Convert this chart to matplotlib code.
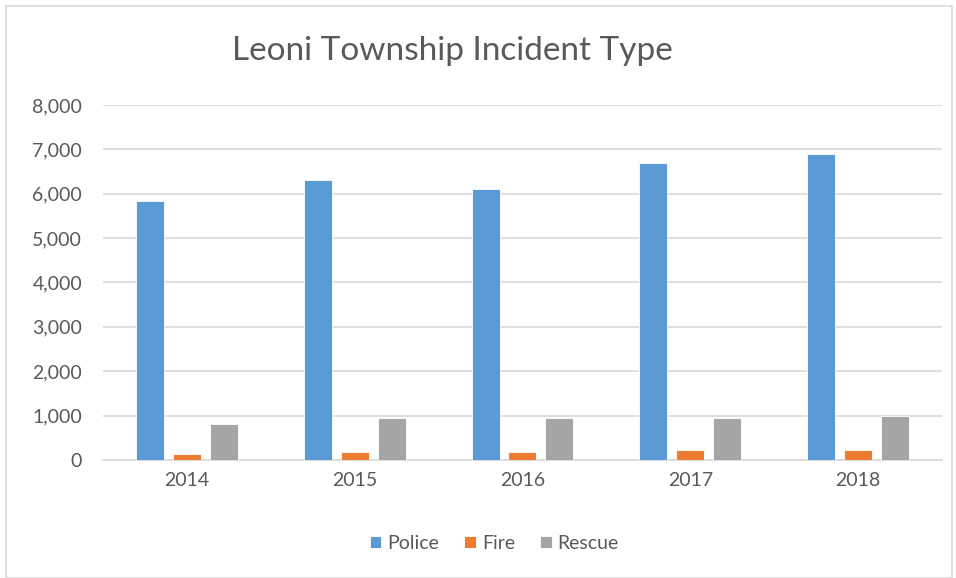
import matplotlib
matplotlib.use("Agg")
import matplotlib.pyplot as plt
import numpy as np
from matplotlib.patches import Rectangle

years = ["2014", "2015", "2016", "2017", "2018"]
police = [5830, 6320, 6115, 6695, 6895]
fire = [130, 180, 180, 215, 215]
rescue = [820, 940, 940, 940, 990]
series_names = ["Police", "Fire", "Rescue"]
colors = ["#5B9BD5", "#ED7D31", "#A5A5A5"]

plt.rcParams['font.family'] = ['Lato', 'DejaVu Sans']

fig = plt.figure(figsize=(9.56, 5.78), dpi=100)
ax = fig.add_axes([0.1077, 0.2042, 0.8776, 0.6141])

x = np.arange(len(years))
w = 0.167
step = 0.22
for i, (vals, name, c) in enumerate(zip([police, fire, rescue], series_names, colors)):
    ax.bar(x + (i - 1) * step, vals, width=w, color=c, label=name,
           edgecolor="white", linewidth=0.6, zorder=3)

ax.set_xlim(-0.5, len(years) - 0.5)
ax.set_ylim(0, 8000)
ax.set_yticks(np.arange(0, 8001, 1000))
ax.set_yticklabels([f"{v:,}" for v in range(0, 8001, 1000)])
ax.set_xticks(x)
ax.set_xticklabels(years)
ax.yaxis.grid(True, color="#D9D9D9", linewidth=1.2, zorder=0)
ax.set_axisbelow(True)
for s in ["top", "right", "left"]:
    ax.spines[s].set_visible(False)
ax.spines["bottom"].set_color("#D9D9D9")
ax.spines["bottom"].set_linewidth(1.2)
ax.tick_params(axis="y", length=0, labelsize=14, labelcolor="#595959", pad=15)
ax.tick_params(axis="x", length=0, labelsize=14, labelcolor="#595959", pad=9)

fig.text(0.473, 0.912, "Leoni Township Incident Type", ha="center", va="center",
         fontsize=24, color="#595959")

leg = fig.legend(loc="center", bbox_to_anchor=(0.517, 0.06), ncol=3, frameon=False,
                 fontsize=14, handlelength=0.6, handleheight=0.6, handletextpad=0.3,
                 columnspacing=1.3)
for t in leg.get_texts():
    t.set_color("#595959")

fig.patches.append(Rectangle((0.006, 0.0), 0.99, 0.99, transform=fig.transFigure,
                             fill=False, edgecolor="#D9D9D9", linewidth=1.2))

fig.savefig("out.png", dpi=100)
